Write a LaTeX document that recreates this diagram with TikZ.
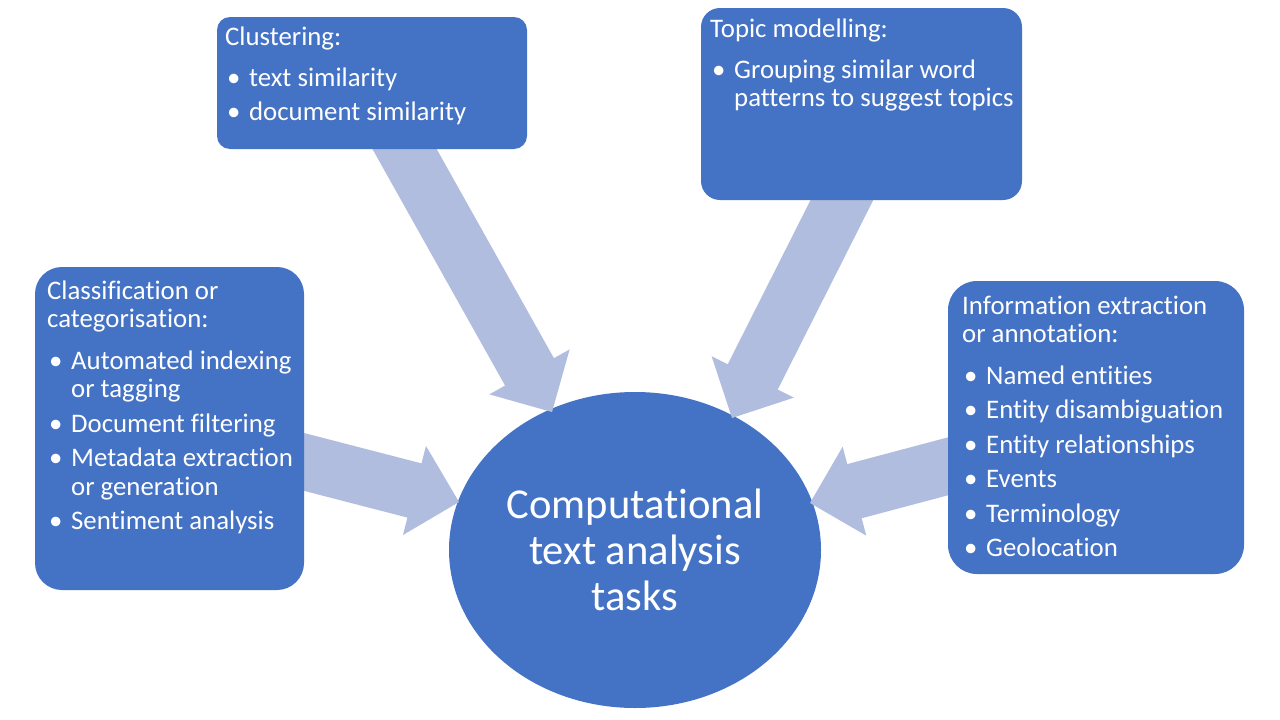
\documentclass[tikz,border=0pt]{standalone}
\usepackage{fontspec}
\setmainfont[Ligatures=NoCommon]{Carlito}
\usetikzlibrary{calc,shapes.geometric}
\definecolor{boxblue}{RGB}{68,114,196}
\definecolor{arrblue}{RGB}{176,189,222}
\newcommand\boxfont{\fontsize{26.8}{28.5}\selectfont}
\newcommand\bit[2][6pt]{\par\vspace{#1}\hangindent=24pt\hangafter=1\noindent\makebox[24pt][l]{\hspace{2pt}\textbullet}#2\par}
\newcommand\blkarrow[2]{%
  \coordinate (tmpH) at ($(#2)!46pt!(#1)$);
  \fill[arrowfill] ($(#1)!28pt!90:(#2)$) -- ($(tmpH)!28pt!90:(#2)$) -- ($(tmpH)!46pt!90:(#2)$) -- (#2) -- ($(tmpH)!46pt!-90:(#2)$) -- ($(tmpH)!28pt!-90:(#2)$) -- ($(#1)!28pt!-90:(#2)$) -- cycle;}
\tikzset{
  arrowfill/.style={fill=arrblue},
  bluebox/.style={rectangle, fill=boxblue, draw=none, inner sep=0pt},
  boxtext/.style={anchor=base west, inner sep=0pt, text=white},
  core/.style={ellipse, fill=boxblue, draw=none, inner sep=0pt, text=white,
    minimum width=372pt, minimum height=316pt, align=center,
    font=\fontsize{42.6}{46}\selectfont}
}
\begin{document}
\begin{tikzpicture}[x=1pt,y=-1pt]
\useasboundingbox (0,0) rectangle (1280,720);
\fill[white] (0,0) rectangle (1280,720);
% central ellipse
\node[core] (core) at (635,550) {Computational\\text analysis\\tasks};
% arrow ends
\coordinate (sClu) at (395,132); \coordinate (tClu) at (552,412);
\coordinate (sTop) at (850,184); \coordinate (tTop) at (732,418);
\coordinate (sCla) at (285,457); \coordinate (tCla) at (459,502);
\coordinate (sInf) at (968,461); \coordinate (tInf) at (810,503);
\blkarrow{sClu}{tClu}
\blkarrow{sTop}{tTop}
\blkarrow{sCla}{tCla}
\blkarrow{sInf}{tInf}
% boxes
\node[bluebox, rounded corners=13pt, minimum width=310pt, minimum height=132pt] (clu) at (372,83) {};
\node[bluebox, rounded corners=19pt, minimum width=321pt, minimum height=192pt] (top) at (861.5,104) {};
\node[bluebox, rounded corners=27pt, minimum width=269pt, minimum height=323pt] (cla) at (169.5,428.5) {};
\node[bluebox, rounded corners=29pt, minimum width=296pt, minimum height=293pt] (inf) at (1096,427.5) {};
% texts
\node[boxtext] (cluT) at (225,45) {\parbox[t]{300pt}{\boxfont\raggedright Clustering:\par
  \bit[13pt]{text similarity}\bit{document similarity}}};
\node[boxtext] (topT) at (710,37) {\parbox[t]{310pt}{\boxfont\raggedright Topic modelling:\par
  \bit[13pt]{Grouping similar word\newline patterns to suggest topics}}};
\node[boxtext] (claT) at (47,299) {\parbox[t]{260pt}{\boxfont\raggedright Classification or\newline categorisation:\par
  \bit[13pt]{Automated indexing\newline or tagging}\bit{Document filtering}\bit{Metadata extraction\newline or generation}\bit{Sentiment analysis}}};
\node[boxtext] (infT) at (962,314) {\parbox[t]{280pt}{\boxfont\raggedright Information extraction\newline or annotation:\par
  \bit[13pt]{Named entities}\bit{Entity disambiguation}\bit{Entity relationships}\bit{Events}\bit{Terminology}\bit{Geolocation}}};
\end{tikzpicture}
\end{document}
